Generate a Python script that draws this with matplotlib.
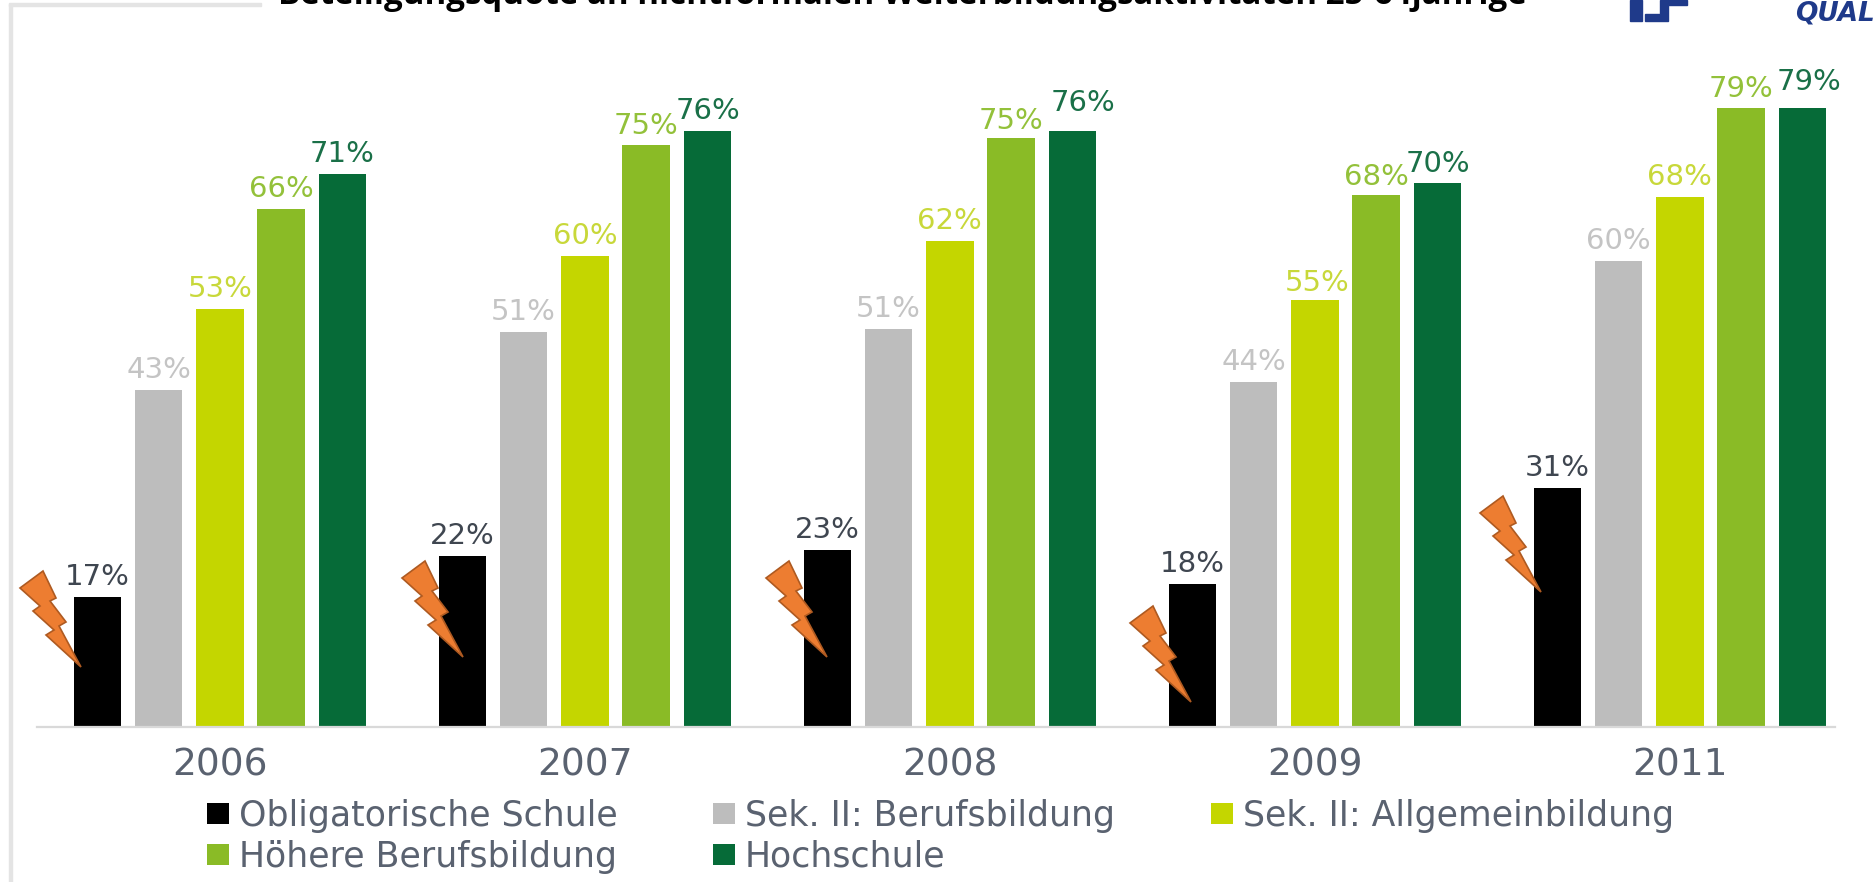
import matplotlib
matplotlib.use("Agg")
import matplotlib.pyplot as plt
from matplotlib.patches import Polygon, Rectangle
import numpy as np

W, H = 1875, 882
years = ["2006", "2007", "2008", "2009", "2011"]
series = ["Obligatorische Schule", "Sek. II: Berufsbildung", "Sek. II: Allgemeinbildung",
          "Höhere Berufsbildung", "Hochschule"]
obligatorisch = [16.6, 21.8, 22.6, 18.2, 30.5]
berufsbildung = [43.0, 50.4, 50.8, 44.0, 59.4]
allgemeinbildung = [53.3, 60.1, 62.0, 54.5, 67.6]
hoehere = [66.1, 74.2, 75.1, 67.8, 79.0]
hochschule = [70.5, 76.0, 76.0, 69.4, 79.0]
labels = [[17, 22, 23, 18, 31], [43, 51, 51, 44, 60], [53, 60, 62, 55, 68],
          [66, 75, 75, 68, 79], [71, 76, 76, 70, 79]]
values = [obligatorisch, berufsbildung, allgemeinbildung, hoehere, hochschule]
colors = ["#000000", "#bdbdbd", "#c4d600", "#8abb26", "#066b38"]
text_colors = ["#3f4650", "#c4c4c4", "#c8d83a", "#93c13a", "#1a7048"]
title = "Beteiligungsquote an nichtformalen Weiterbildungsaktivitäten 25-64jährige"

fig = plt.figure(figsize=(W / 100, H / 100), dpi=100, facecolor="white")
plt.rcParams["font.family"] = "DejaVu Sans"

def px(x, y):
    return x / W, 1 - y / H

ax = fig.add_axes([37 / W, 1 - 727 / H, (1835 - 37) / W, (727 - 60) / H])
ax.set_xlim(-0.501, 4.425)
ax.set_ylim(0, 667 / 7.84)
for s in ["top", "left", "right"]:
    ax.spines[s].set_visible(False)
ax.spines["bottom"].set_color("#d9d9d9")
ax.spines["bottom"].set_linewidth(1.6)
ax.set_yticks([])
ax.set_xticks(range(len(years)))
ax.set_xticklabels(years, fontsize=27, color="#5a6270")
ax.tick_params(axis="x", length=0, pad=15)

x = np.arange(len(years))
step, width = 0.168, 0.13
# (series, year): label nudge in px
nudge = {(4, 3): (0, -1), (3, 4): (0, -1), (2, 4): (0, 0), (4, 4): (6, 6), (3, 1): (0, -1),
         (3, 2): (0, -3), (2, 3): (2, -3), (3, 3): (0, -2), (4, 2): (10, 8)}
handles = []
for i, vals in enumerate(values):
    b = ax.bar(x + (i - 2) * step, vals, width, color=colors[i], label=series[i])
    handles.append(b)
    for j, v in enumerate(vals):
        dx, dy = nudge.get((i, j), (0, 0))
        ax.annotate(f"{labels[i][j]}%", (x[j] + (i - 2) * step, v), xytext=(dx * .72, (6 + dy) * .72),
                    textcoords="offset points", ha="center", va="bottom",
                    fontsize=21, color=text_colors[i], annotation_clip=False)

order = [0, 3, 1, 4, 2]
ax.legend([handles[k] for k in order], [series[k] for k in order], ncol=3, frameon=False,
          loc="upper left", bbox_to_anchor=(207 / W, 1 - 799 / H), bbox_transform=fig.transFigure,
          fontsize=25, labelcolor="#5a6270", handlelength=0.64, handleheight=0.56,
          handletextpad=0.28, columnspacing=2.75, labelspacing=0.2, borderpad=0, borderaxespad=0)

# lightning bolts (shape relative to its tip)
bolt = np.array([[-61, -79], [-38, -96], [-25, -69], [-31, -66], [-15, -45], [-22, -41], [0, 0],
                 [-35, -32], [-27, -37], [-48, -56], [-41, -61]], float)
tips = [(81, 667), (463, 657), (827, 657), (1191, 702), (1541, 592)]
for tx, ty in tips:
    fig.add_artist(Polygon([px(tx + a, ty + b) for a, b in bolt], closed=True, transform=fig.transFigure,
                           facecolor="#ed7d31", edgecolor="#ae5a21", linewidth=1.2, zorder=5))

# slide frame remnants
fig.add_artist(Rectangle(px(9, 882), 2.5 / W, 878 / H, transform=fig.transFigure, color="#e4e4e4"))
fig.add_artist(Rectangle(px(9, 6), 252 / W, 3 / H, transform=fig.transFigure, color="#e4e4e4"))

# clipped title and logo fragments
fig.text(278 / W, 1 - 4 / H, title, fontsize=23.8, fontweight="bold", family="Open Sans",
         color="black", ha="left", va="baseline")
navy = "#1f3a8a"
fig.add_artist(Rectangle(px(1630, 21), 12 / W, 21 / H, transform=fig.transFigure, color=navy))
fig.add_artist(Polygon([px(a, b) for a, b in [(1645, 21), (1668, 21), (1668, 5), (1687, 5), (1687, 0),
                                              (1660, 0), (1660, 14), (1645, 14)]],
                       closed=True, transform=fig.transFigure, color=navy))
fig.text(1795 / W, 1 - 20 / H, "QUAL", fontsize=19, fontweight="bold", style="italic",
         color=navy, ha="left", va="baseline", clip_on=True)

fig.savefig("out.png", dpi=100)
